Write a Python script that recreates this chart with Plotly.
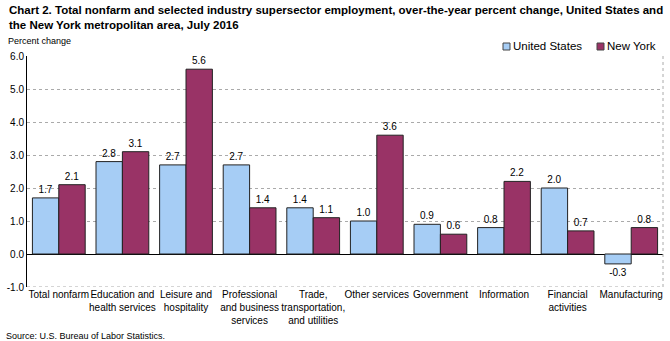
import plotly.graph_objects as go

categories = ["Total nonfarm", "Education and<br>health services", "Leisure and<br>hospitality",
              "Professional<br>and business<br>services", "Trade,<br>transportation,<br>and utilities",
              "Other services", "Government", "Information", "Financial<br>activities", "Manufacturing"]
us_values = [1.7, 2.8, 2.7, 2.7, 1.4, 1.0, 0.9, 0.8, 2.0, -0.3]
ny_values = [2.1, 3.1, 5.6, 1.4, 1.1, 3.6, 0.6, 2.2, 0.7, 0.8]
tick_vals = [-1.0, 0.0, 1.0, 2.0, 3.0, 4.0, 5.0, 6.0]
tick_text = ["-1.0", "0.0", "1.0", "2.0", "3.0", "4.0", "5.0", "6.0"]
series_names = ["United States", "New York"]
series_colors = ["#A6CDF5", "#993366"]

FONT = "Liberation Sans, Arial, sans-serif"

fig = go.Figure()
for name, vals, col in zip(series_names, [us_values, ny_values], series_colors):
    fig.add_trace(go.Bar(x=categories, y=vals, name=name,
                         marker=dict(color=col, line=dict(color="#222222", width=1)),
                         text=[f"{v:.1f}" for v in vals], textposition="outside",
                         textfont=dict(size=10, color="#000000"), cliponaxis=False))

shapes = [
    dict(type="line", xref="paper", yref="paper", x0=1, x1=1, y0=0, y1=1,
         line=dict(color="#AAAAAA", width=1, dash="dot")),
    dict(type="line", xref="paper", yref="y", x0=0, x1=1, y0=-1.0, y1=-1.0,
         line=dict(color="#AAAAAA", width=1, dash="dot")),
]
annotations = [
    dict(text="<b>Chart 2. Total nonfarm and selected industry supersector employment, over-the-year percent change, United States and<br>the New York metropolitan area, July 2016</b>",
         xref="paper", yref="paper", x=0, y=1, xanchor="left", yanchor="top",
         xshift=-20, yshift=54, showarrow=False, align="left",
         font=dict(size=11.5, family=FONT)),
    dict(text="Percent change", xref="paper", yref="paper", x=0, y=1,
         xanchor="left", yanchor="bottom", xshift=-21, yshift=8, showarrow=False,
         font=dict(size=9)),
    dict(text="Source: U.S. Bureau of Labor Statistics.", xref="paper", yref="paper",
         x=0, y=0, xanchor="left", yanchor="top", xshift=-23, yshift=-42,
         showarrow=False, font=dict(size=9)),
]
# custom legend: small squares + text
legend_px = [476, 570]
for px, name, col in zip(legend_px, series_names, series_colors):
    shapes.append(dict(type="rect", xref="paper", yref="paper",
                       xsizemode="pixel", ysizemode="pixel", xanchor=0, yanchor=1,
                       x0=px, x1=px + 7, y0=6, y1=13,
                       fillcolor=col, line=dict(color="#444444", width=1)))
    annotations.append(dict(text=name, xref="paper", yref="paper", x=0, y=1,
                            xanchor="left", yanchor="middle", xshift=px + 8, yshift=10,
                            showarrow=False, font=dict(size=11.5)))

fig.update_layout(
    width=670, height=341,
    margin=dict(l=23, r=7, t=56, b=54),
    paper_bgcolor="white", plot_bgcolor="white",
    barmode="group", bargap=0.17, bargroupgap=0,
    font=dict(family=FONT, size=10, color="#000000"),
    showlegend=False,
    xaxis=dict(showgrid=False, showline=False, ticks="", tickfont=dict(size=10),
               tickangle=0),
    yaxis=dict(range=[-1.0, 6.0], tickvals=tick_vals, ticktext=tick_text,
               showgrid=True, gridcolor="#AAAAAA", griddash="dot", gridwidth=1,
               zeroline=True, zerolinecolor="#000000", zerolinewidth=1,
               showline=True, linecolor="#000000", linewidth=1,
               ticks="", tickfont=dict(size=10)),
    shapes=shapes,
    annotations=annotations,
)

fig.write_html("out.html")
